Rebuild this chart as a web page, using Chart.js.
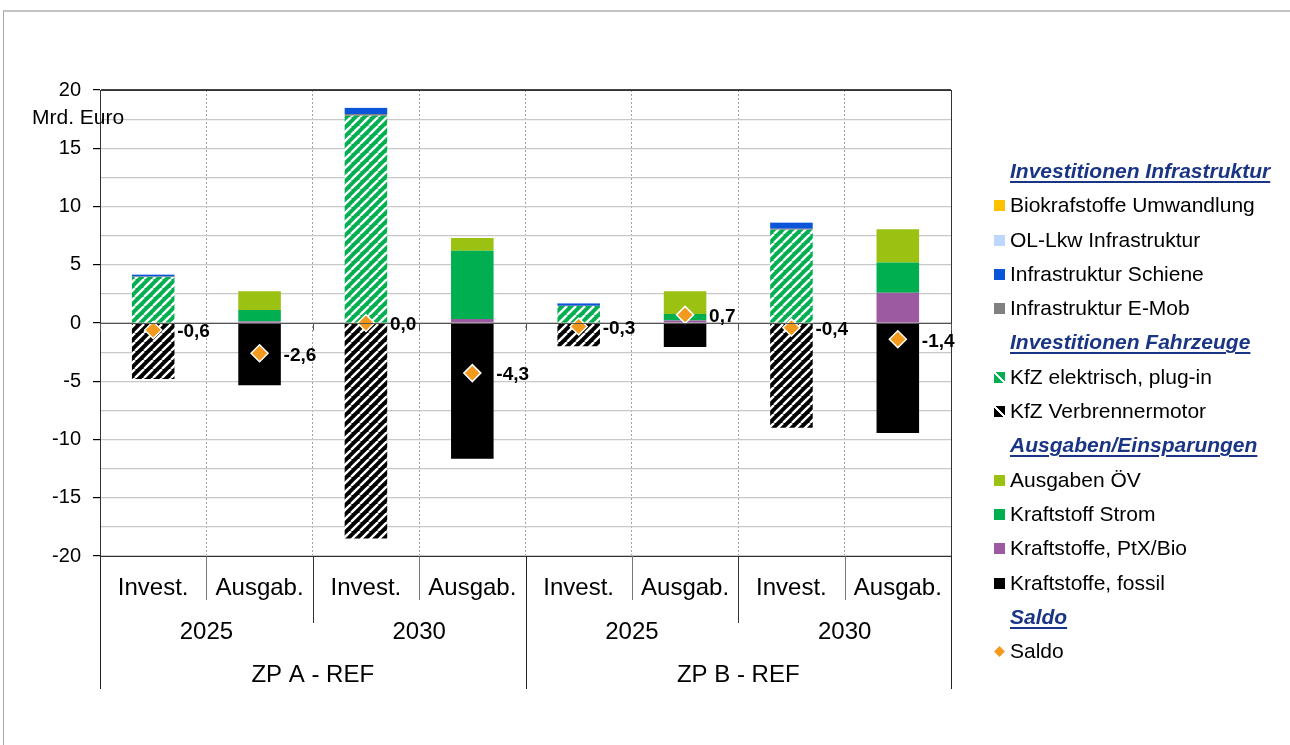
<!DOCTYPE html>
<html>
<head>
<meta charset="utf-8">
<script src="https://cdn.jsdelivr.net/npm/chart.js@4.4.1/dist/chart.umd.min.js"></script>
<style>
  html,body{margin:0;padding:0;background:#fff;}
  body{width:1290px;height:745px;overflow:hidden;position:relative;font-family:"Liberation Sans",Arial,sans-serif;}
  #frame{position:absolute;left:3px;top:10px;width:1300px;height:800px;border-left:1px solid #a8a8a8;border-top:2px solid #c4c4c4;box-sizing:border-box;}
  #wrap{position:absolute;left:0;top:0;width:1290px;height:745px;}
  #ytitle{position:absolute;left:32px;top:104px;font-size:21px;line-height:26px;color:#000;white-space:nowrap;}
  #legend{position:absolute;left:992px;top:154px;}
  .row{height:34.3px;line-height:34.3px;font-size:21px;color:#000;white-space:nowrap;position:relative;padding-left:18px;}
  .row .m{position:absolute;left:2px;top:12px;width:11px;height:11px;}
  .head{font-weight:bold;font-style:italic;text-decoration:underline;text-decoration-thickness:2px;text-underline-offset:3px;color:#1A3585;}
</style>
</head>
<body>
<div id="frame"></div>
<div id="wrap"><canvas id="c" width="1290" height="745"></canvas></div>
<div id="ytitle">Mrd. Euro</div>
<div id="legend"></div>
<script>
// ---- data ----
const categories = ["Invest.", "Ausgab.", "Invest.", "Ausgab.", "Invest.", "Ausgab.", "Invest.", "Ausgab."];
const years = ["2025", "2030", "2025", "2030"];
const groups = ["ZP A - REF", "ZP B - REF"];

const kfzElektrisch   = [3.95, 0, 17.8, 0, 1.45, 0, 8.0, 0];
const kfzVerbrenner   = [-4.8, 0, -18.5, 0, -2.0, 0, -9.0, 0];
const infraEMob       = [0.05, 0, 0.15, 0, 0.03, 0, 0.1, 0];
const infraSchiene    = [0.15, 0, 0.5, 0, 0.2, 0, 0.5, 0];
const olLkwInfra      = [0.03, 0, 0.05, 0, 0.03, 0, 0.05, 0];
const bioUmwandlung   = [0, 0, 0, 0, 0, 0, 0, 0];
const kraftPtXBio     = [0, 0.12, 0, 0.35, 0, 0.22, 0, 2.6];
const kraftStrom      = [0, 1.0, 0, 5.85, 0, 0.55, 0, 2.6];
const ausgabenOEV     = [0, 1.6, 0, 1.1, 0, 1.95, 0, 2.85];
const kraftFossil     = [0, -5.35, 0, -11.65, 0, -2.05, 0, -9.45];
const saldo           = [-0.6, -2.6, 0.0, -4.3, -0.3, 0.7, -0.4, -1.4];

const yTicksMin = -20, yTicksMax = 20;

// ---- styles ----
const FONT = '"Liberation Sans", Arial, sans-serif';
const C = {
  bio:'#FFC000', ol:'#BDD7FE', schiene:'#0A55D8', emob:'#808080',
  el:'#00B050', verb:'#000000', oev:'#9BC113', strom:'#00B050', ptx:'#9C5AA0', fossil:'#000000', saldo:'#F39A1D'
};

function hatch(bg){
  const p = document.createElement('canvas');
  const s = 9;
  p.width = s; p.height = s;
  const g = p.getContext('2d');
  g.fillStyle = bg; g.fillRect(0,0,s,s);
  g.strokeStyle = '#fff'; g.lineWidth = 2.4;
  for (const k of [-s, 0, s]) {
    g.beginPath(); g.moveTo(k, s); g.lineTo(k + s, 0); g.stroke();
  }
  return document.getElementById('c').getContext('2d').createPattern(p, 'repeat');
}

const barBase = {type:'bar', order:2, borderWidth:0, barPercentage:0.4, categoryPercentage:1, stack:'s'};

const datasets = [
  {...barBase, label:'KfZ elektrisch, plug-in', data:kfzElektrisch, backgroundColor:hatch(C.el)},
  {...barBase, label:'KfZ Verbrennermotor', data:kfzVerbrenner, backgroundColor:hatch(C.verb)},
  {...barBase, label:'Infrastruktur E-Mob', data:infraEMob, backgroundColor:C.emob},
  {...barBase, label:'Infrastruktur Schiene', data:infraSchiene, backgroundColor:C.schiene},
  {...barBase, label:'OL-Lkw Infrastruktur', data:olLkwInfra, backgroundColor:C.ol},
  {...barBase, label:'Biokrafstoffe Umwandlung', data:bioUmwandlung, backgroundColor:C.bio},
  {...barBase, label:'Kraftstoffe, PtX/Bio', data:kraftPtXBio, backgroundColor:C.ptx},
  {...barBase, label:'Kraftstoff Strom', data:kraftStrom, backgroundColor:C.strom},
  {...barBase, label:'Ausgaben ÖV', data:ausgabenOEV, backgroundColor:C.oev},
  {...barBase, label:'Kraftstoffe, fossil', data:kraftFossil, backgroundColor:C.fossil},
  {type:'line', order:0, stack:'saldo', label:'Saldo', data:saldo, showLine:false,
   pointStyle:'rectRot', pointRadius:8.5, pointHoverRadius:8.5,
   pointBackgroundColor:C.saldo, pointBorderColor:'#fff', pointBorderWidth:1.5}
];

const decor = {
  id:'decor',
  beforeDatasetsDraw(chart){
    const {ctx, chartArea:a} = chart;
    ctx.save();
    ctx.strokeStyle = '#333'; ctx.lineWidth = 1;
    ctx.strokeRect(Math.round(a.left)+0.5, Math.round(a.top)+0.5, Math.round(a.right-a.left), Math.round(a.bottom-a.top));
    ctx.restore();
  },
  afterDatasetsDraw(chart){
    const {ctx, chartArea:a} = chart;
    const ys = chart.scales.y;
    const n = categories.length;
    const w = (a.right - a.left) / n;
    const y0 = Math.round(ys.getPixelForValue(0)) + 0.5;
    ctx.save();
    // zero line & ticks of category axis
    ctx.strokeStyle = '#555'; ctx.lineWidth = 1.2;
    ctx.beginPath(); ctx.moveTo(a.left, y0); ctx.lineTo(a.right, y0); ctx.stroke();
    ctx.lineWidth = 1;
    for (let k = 0; k <= n; k++) {
      const x = Math.round(a.left + k*w) + 0.5;
      ctx.beginPath(); ctx.moveTo(x, y0); ctx.lineTo(x, y0 + 7); ctx.stroke();
    }
    // saldo labels
    const meta = chart.getDatasetMeta(datasets.length - 1);
    ctx.fillStyle = '#000';
    ctx.font = 'bold 19px ' + FONT;
    ctx.textAlign = 'left'; ctx.textBaseline = 'middle';
    meta.data.forEach((pt, i) => {
      ctx.fillText(saldo[i].toFixed(1).replace('.', ','), pt.x + 24, pt.y + 2);
    });
    ctx.restore();
  },
  afterDraw(chart){
    const {ctx, chartArea:a} = chart;
    const xs = chart.scales.x;
    const n = categories.length;
    const w = (a.right - a.left) / n;
    const bottom = Math.round(a.bottom);
    ctx.save();
    ctx.fillStyle = '#000';
    ctx.textAlign = 'center'; ctx.textBaseline = 'middle';
    ctx.font = '24px ' + FONT;
    categories.forEach((c, i) => ctx.fillText(c, xs.getPixelForValue(i), 588));
    years.forEach((y, j) => ctx.fillText(y, (xs.getPixelForValue(2*j) + xs.getPixelForValue(2*j+1))/2, 632));
    groups.forEach((g, j) => ctx.fillText(g, (xs.getPixelForValue(4*j) + xs.getPixelForValue(4*j+3))/2, 675));
    // separator lines
    for (let k = 0; k <= n; k++) {
      const x = Math.round(a.left + k*w) + 0.5;
      let len, col;
      if (k % 4 === 0) { len = 689; col = '#222'; }
      else if (k % 2 === 0) { len = 623; col = '#333'; }
      else { len = 600; col = '#777'; }
      ctx.strokeStyle = col; ctx.lineWidth = 1;
      ctx.beginPath(); ctx.moveTo(x, bottom); ctx.lineTo(x, len); ctx.stroke();
    }
    ctx.restore();
  }
};

new Chart(document.getElementById('c'), {
  data:{labels:categories, datasets},
  plugins:[decor],
  options:{
    responsive:false, animation:false, devicePixelRatio:1,
    layout:{padding:{left:0, top:90, right:339, bottom:189}},
    plugins:{legend:{display:false}, tooltip:{enabled:false}},
    scales:{
      x:{
        stacked:true, offset:true,
        afterFit(s){ s.height = 0; },
        ticks:{display:false},
        grid:{offset:true, color:'#a0a0a0', lineWidth:1, drawTicks:false},
        border:{display:false, dash:[2,2]}
      },
      y:{
        stacked:true, min:yTicksMin, max:yTicksMax,
        afterFit(s){ s.width = 100; },
        ticks:{stepSize:2.5, autoSkip:false, padding:12, color:'#000', font:{family:FONT, size:20},
               callback:v => (v % 5 === 0 ? String(v) : '')},
        grid:{color:ctx => (ctx.tick && ctx.tick.value === 20 ? '#444' : '#c8c8c8'), lineWidth:1.2, tickLength:7,
              tickColor:ctx => (ctx.tick && ctx.tick.value % 5 === 0 ? '#000' : 'rgba(0,0,0,0)')},
        border:{display:true, color:'#000', width:1}
      }
    }
  }
});

// ---- legend (HTML) ----
const legendItems = [
  {h:'Investitionen Infrastruktur'},
  {t:'Biokrafstoffe Umwandlung', c:C.bio},
  {t:'OL-Lkw Infrastruktur', c:C.ol},
  {t:'Infrastruktur Schiene', c:C.schiene},
  {t:'Infrastruktur E-Mob', c:C.emob},
  {h:'Investitionen Fahrzeuge'},
  {t:'KfZ elektrisch, plug-in', c:C.el, hatch:true},
  {t:'KfZ Verbrennermotor', c:C.verb, hatch:true},
  {h:'Ausgaben/Einsparungen'},
  {t:'Ausgaben ÖV', c:C.oev},
  {t:'Kraftstoff Strom', c:C.strom},
  {t:'Kraftstoffe, PtX/Bio', c:C.ptx},
  {t:'Kraftstoffe, fossil', c:C.fossil},
  {h:'Saldo'},
  {t:'Saldo', c:C.saldo, diamond:true}
];
const lg = document.getElementById('legend');
legendItems.forEach(it => {
  const r = document.createElement('div');
  r.className = 'row';
  if (it.h) {
    const s = document.createElement('span'); s.className = 'head'; s.textContent = it.h; r.appendChild(s);
  } else {
    const m = document.createElement('span'); m.className = 'm';
    if (it.hatch) m.style.background = `linear-gradient(to top right, ${it.c} 42%, #fff 42%, #fff 58%, ${it.c} 58%)`;
    else m.style.background = it.c;
    if (it.diamond) { m.style.transform = 'rotate(45deg) scale(0.7)'; }
    r.appendChild(m);
    r.appendChild(document.createTextNode(it.t));
  }
  lg.appendChild(r);
});
</script>
</body>
</html>
